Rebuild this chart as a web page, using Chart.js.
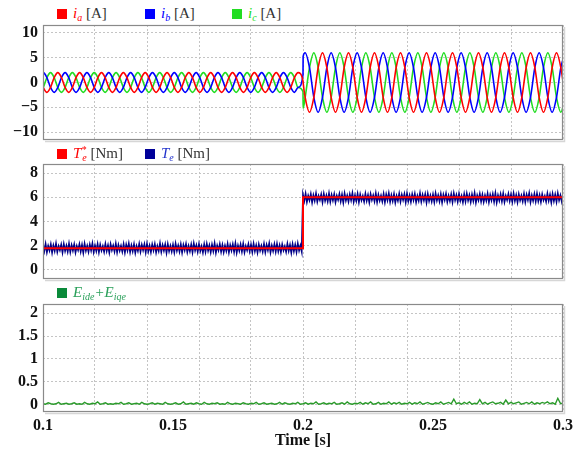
<!DOCTYPE html>
<html>
<head>
<meta charset="utf-8">
<script src="https://cdn.jsdelivr.net/npm/chart.js@4.4.0/dist/chart.umd.min.js"></script>
<style>
  body { margin: 0; background: #fff; width: 577px; height: 453px; position: relative; overflow: hidden; font-family: "Liberation Serif", serif; }
  .panel { position: absolute; left: 0; width: 577px; }
  .legend { position: absolute; font-size: 15px; line-height: 16px; color: #333; white-space: nowrap; }
  .sw { display: inline-block; width: 10px; height: 10px; margin-right: 6px; vertical-align: -1px; }
  .legend sub { font-size: 10px; vertical-align: -3px; line-height: 0; }
  .legend sup { font-size: 10px; vertical-align: 5px; line-height: 0; }
</style>
</head>
<body>

<div class="legend" style="left:57px;top:5px"><span class="sw" style="background:#ff0000"></span><i style="color:#ff0000">i<sub>a</sub></i> [A]</div>
<div class="legend" style="left:145px;top:5px"><span class="sw" style="background:#0000ff"></span><i style="color:#0000ff">i<sub>b</sub></i> [A]</div>
<div class="legend" style="left:232px;top:5px"><span class="sw" style="background:#22dd22"></span><i style="color:#22dd22">i<sub>c</sub></i> [A]</div>
<canvas id="chart-current" class="panel" style="top:17px" width="577" height="130"></canvas>

<div class="legend" style="left:57px;top:145px"><span class="sw" style="background:#ff0000"></span><i style="color:#ff0000">T<sup>*</sup><sub style="margin-left:-4px">e</sub></i> [Nm]</div>
<div class="legend" style="left:145px;top:145px"><span class="sw" style="background:#000099"></span><i style="color:#2233cc">T<sub>e</sub></i> [Nm]</div>
<canvas id="chart-torque" class="panel" style="top:156px" width="577" height="130"></canvas>

<div class="legend" style="left:57px;top:284px"><span class="sw" style="background:#0a8a3a"></span><i style="color:#2aa05a">E<sub>ide</sub>+E<sub>iqe</sub></i></div>
<canvas id="chart-error" class="panel" style="top:296px" width="577" height="157"></canvas>

<script>
// time axis, grid every 0.02 s, labels every 0.05 s
const xGridLines = [0.1, 0.12, 0.14, 0.16, 0.18, 0.2, 0.22, 0.24, 0.26, 0.28, 0.3];
const xTickLabels = [0.1, 0.15, 0.2, 0.25, 0.3];

const currentTicks = [-10, -5, 0, 5, 10];
const torqueTicks = [0, 2, 4, 6, 8];
const errorTicks = [0, 0.5, 1, 1.5, 2];

// phase currents [A], sampled around the waveform
const currentTime = [
  0.0973, 0.0987, 0.1001, 0.1015, 0.1029, 0.1043,
  0.1057, 0.1071, 0.1085, 0.1099, 0.1113, 0.1127,
  0.1141, 0.1155, 0.1169, 0.1183, 0.1197, 0.1211,
  0.1225, 0.1239, 0.1253, 0.1267, 0.1281, 0.1295,
  0.1309, 0.1323, 0.1337, 0.1351, 0.1365, 0.1379,
  0.1393, 0.1407, 0.1421, 0.1435, 0.1449, 0.1463,
  0.1477, 0.1491, 0.1505, 0.1519, 0.1533, 0.1547,
  0.1561, 0.1575, 0.1589, 0.1603, 0.1617, 0.1631,
  0.1645, 0.1659, 0.1673, 0.1687, 0.1701, 0.1715,
  0.1729, 0.1743, 0.1757, 0.1771, 0.1785, 0.1799,
  0.1813, 0.1827, 0.1841, 0.1855, 0.1869, 0.1883,
  0.1897, 0.1911, 0.1925, 0.1939, 0.1953, 0.1967,
  0.1981, 0.2, 0.20005,
  0.20083, 0.2025, 0.20417, 0.20583, 0.2075, 0.20917,
  0.21083, 0.2125, 0.21417, 0.21583, 0.2175, 0.21917,
  0.22083, 0.2225, 0.22417, 0.22583, 0.2275, 0.22917,
  0.23083, 0.2325, 0.23417, 0.23583, 0.2375, 0.23917,
  0.24083, 0.2425, 0.24417, 0.24583, 0.2475, 0.24917,
  0.25083, 0.2525, 0.25417, 0.25583, 0.2575, 0.25917,
  0.26083, 0.2625, 0.26417, 0.26583, 0.2675, 0.26917,
  0.27083, 0.2725, 0.27417, 0.27583, 0.2775, 0.27917,
  0.28083, 0.2825, 0.28417, 0.28583, 0.2875, 0.28917,
  0.29083, 0.2925, 0.29417, 0.29583, 0.2975, 0.29917,
  0.30083
];
const ia = [
  2, 1, -1, -2, -1, 1,  2, 1, -1, -2, -1, 1,  2, 1, -1, -2, -1, 1,
  2, 1, -1, -2, -1, 1,  2, 1, -1, -2, -1, 1,  2, 1, -1, -2, -1, 1,
  2, 1, -1, -2, -1, 1,  2, 1, -1, -2, -1, 1,  2, 1, -1, -2, -1, 1,
  2, 1, -1, -2, -1, 1,  2, 1, -1, -2, -1, 1,  2, 1, -1, -2, -1, 1,
  2, 0.3, 0,
  -3, -6, -3, 3, 6, 3,  -3, -6, -3, 3, 6, 3,  -3, -6, -3, 3, 6, 3,
  -3, -6, -3, 3, 6, 3,  -3, -6, -3, 3, 6, 3,  -3, -6, -3, 3, 6, 3,
  -3, -6, -3, 3, 6, 3,  -3, -6, -3, 3, 6, 3,  -3, -6, -3, 3, 6, 3,
  -3, -6, -3, 3, 6, 3,
  -3
];
const ib = [
  -1, 1, 2, 1, -1, -2,  -1, 1, 2, 1, -1, -2,  -1, 1, 2, 1, -1, -2,
  -1, 1, 2, 1, -1, -2,  -1, 1, 2, 1, -1, -2,  -1, 1, 2, 1, -1, -2,
  -1, 1, 2, 1, -1, -2,  -1, 1, 2, 1, -1, -2,  -1, 1, 2, 1, -1, -2,
  -1, 1, 2, 1, -1, -2,  -1, 1, 2, 1, -1, -2,  -1, 1, 2, 1, -1, -2,
  -1, 1.56, 5.2,
  6, 3, -3, -6, -3, 3,  6, 3, -3, -6, -3, 3,  6, 3, -3, -6, -3, 3,
  6, 3, -3, -6, -3, 3,  6, 3, -3, -6, -3, 3,  6, 3, -3, -6, -3, 3,
  6, 3, -3, -6, -3, 3,  6, 3, -3, -6, -3, 3,  6, 3, -3, -6, -3, 3,
  6, 3, -3, -6, -3, 3,
  6
];
const ic = [
  -1, -2, -1, 1, 2, 1,  -1, -2, -1, 1, 2, 1,  -1, -2, -1, 1, 2, 1,
  -1, -2, -1, 1, 2, 1,  -1, -2, -1, 1, 2, 1,  -1, -2, -1, 1, 2, 1,
  -1, -2, -1, 1, 2, 1,  -1, -2, -1, 1, 2, 1,  -1, -2, -1, 1, 2, 1,
  -1, -2, -1, 1, 2, 1,  -1, -2, -1, 1, 2, 1,  -1, -2, -1, 1, 2, 1,
  -1, -1.86, -5.2,
  -3, 3, 6, 3, -3, -6,  -3, 3, 6, 3, -3, -6,  -3, 3, 6, 3, -3, -6,
  -3, 3, 6, 3, -3, -6,  -3, 3, 6, 3, -3, -6,  -3, 3, 6, 3, -3, -6,
  -3, 3, 6, 3, -3, -6,  -3, 3, 6, 3, -3, -6,  -3, 3, 6, 3, -3, -6,
  -3, 3, 6, 3, -3, -6,
  -3
];

// torque reference [Nm]
const torqueRefTime = [0.1, 0.2, 0.2, 0.3];
const torqueRef = [1.8, 1.8, 6, 6];

// measured torque [Nm], one sample every 0.5 ms from 0.1 s
const torqueStart = 0.1;
const torqueStep = 0.0005;
const torque = [
  2.05,1.55,2.14,1.47,1.98,1.61,2.11,1.44,2.02,1.58,2.17,1.50,1.96,1.63,2.08,1.46,2.13,1.57,2.00,1.52,
  2.16,1.49,2.04,1.60,2.10,1.45,1.97,1.64,2.12,1.53,2.06,1.43,2.15,1.59,1.99,1.51,2.09,1.62,2.18,1.48,
  2.01,1.56,2.13,1.46,2.07,1.60,1.95,1.50,2.14,1.57,2.03,1.44,2.11,1.63,2.00,1.53,2.16,1.47,2.05,1.59,
  1.98,1.52,2.12,1.45,2.08,1.61,2.17,1.49,2.02,1.55,2.10,1.42,1.96,1.58,2.14,1.51,2.06,1.64,2.11,1.46,
  2.15,1.54,2.00,1.48,2.09,1.62,2.13,1.45,1.97,1.57,2.18,1.50,2.04,1.60,2.10,1.43,2.12,1.56,1.99,1.52,
  2.07,1.47,2.16,1.59,2.01,1.53,2.11,1.44,2.05,1.63,2.14,1.49,1.98,1.55,2.09,1.46,2.17,1.61,2.03,1.50,
  2.12,1.58,1.96,1.45,2.10,1.52,2.15,1.60,2.02,1.47,2.08,1.56,2.18,1.43,2.00,1.62,2.13,1.51,2.06,1.48,
  1.99,1.57,2.14,1.46,2.04,1.61,2.11,1.50,2.17,1.44,2.01,1.59,2.09,1.53,2.15,1.47,1.97,1.63,2.12,1.55,
  2.08,1.49,2.16,1.56,2.03,1.45,2.10,1.60,1.98,1.52,2.13,1.48,2.06,1.64,2.18,1.46,2.00,1.57,2.11,1.51,
  2.14,1.54,2.02,1.47,2.09,1.62,1.95,1.50,2.15,1.58,2.05,1.44,2.12,1.55,2.07,1.49,2.17,1.61,2.01,1.53,
  6.20,5.70,6.29,5.62,6.13,5.76,6.26,5.59,6.17,5.73,6.32,5.65,6.11,5.78,6.23,5.61,6.28,5.72,6.15,5.67,
  6.31,5.64,6.19,5.75,6.25,5.60,6.12,5.79,6.27,5.68,6.21,5.58,6.30,5.74,6.14,5.66,6.24,5.77,6.33,5.63,
  6.16,5.71,6.28,5.61,6.22,5.75,6.10,5.65,6.29,5.72,6.18,5.59,6.26,5.78,6.15,5.68,6.31,5.62,6.20,5.74,
  6.13,5.67,6.27,5.60,6.23,5.76,6.32,5.64,6.17,5.70,6.25,5.57,6.11,5.73,6.29,5.66,6.21,5.79,6.26,5.61,
  6.30,5.69,6.15,5.63,6.24,5.77,6.28,5.60,6.12,5.72,6.33,5.65,6.19,5.75,6.25,5.58,6.27,5.71,6.14,5.67,
  6.22,5.62,6.31,5.74,6.16,5.68,6.26,5.59,6.20,5.78,6.29,5.64,6.13,5.70,6.24,5.61,6.32,5.76,6.18,5.65,
  6.27,5.73,6.11,5.60,6.25,5.67,6.30,5.75,6.17,5.62,6.23,5.71,6.33,5.58,6.15,5.77,6.28,5.66,6.21,5.63,
  6.14,5.72,6.29,5.61,6.19,5.76,6.26,5.65,6.32,5.59,6.16,5.74,6.24,5.68,6.30,5.62,6.12,5.78,6.27,5.70,
  6.23,5.64,6.31,5.71,6.18,5.60,6.25,5.75,6.13,5.67,6.28,5.63,6.21,5.79,6.33,5.61,6.15,5.72,6.26,5.66,
  6.29,5.69,6.17,5.62,6.24,5.77,6.10,5.65,6.30,5.73,6.20,5.59,6.27,5.70,6.22,5.64,6.32,5.76,6.16,5.68,
  6.25
];

// current error Eide + Eiqe, one sample every 1 ms from 0.1 s
const errorStart = 0.1;
const errorStep = 0.001;
const errorSum = [
  0.02,0.01,0.04,0.02,0.01,0.02,0.05,0.01,0.02,0.03,0.01,0.02,0.04,0.01,0.02,0.01,0.05,0.02,0.01,0.03,
  0.02,0.06,0.01,0.02,0.04,0.01,0.02,0.01,0.03,0.02,0.05,0.01,0.02,0.04,0.01,0.02,0.03,0.01,0.05,0.02,
  0.01,0.02,0.04,0.01,0.03,0.02,0.01,0.05,0.02,0.01,0.02,0.04,0.01,0.02,0.06,0.01,0.02,0.03,0.01,0.04,
  0.02,0.01,0.05,0.02,0.01,0.03,0.02,0.04,0.01,0.02,0.01,0.05,0.02,0.01,0.03,0.02,0.01,0.04,0.02,0.01,
  0.03,0.02,0.05,0.01,0.02,0.04,0.01,0.02,0.03,0.01,0.02,0.05,0.01,0.04,0.02,0.01,0.03,0.02,0.05,0.01,
  0.02,0.04,0.01,0.03,0.02,0.06,0.01,0.02,0.04,0.01,0.03,0.02,0.05,0.01,0.02,0.04,0.01,0.06,0.02,0.01,
  0.03,0.02,0.05,0.01,0.04,0.02,0.06,0.01,0.02,0.05,0.01,0.03,0.02,0.06,0.01,0.04,0.02,0.05,0.01,0.03,
  0.02,0.05,0.01,0.04,0.02,0.06,0.01,0.03,0.05,0.02,0.01,0.04,0.02,0.06,0.01,0.03,0.05,0.02,0.12,0.02,
  0.04,0.01,0.05,0.02,0.06,0.01,0.03,0.02,0.11,0.02,0.05,0.01,0.04,0.06,0.02,0.03,0.05,0.01,0.10,0.02,
  0.05,0.02,0.04,0.06,0.01,0.03,0.05,0.02,0.06,0.01,0.04,0.02,0.05,0.03,0.06,0.02,0.04,0.01,0.14,0.03,
  0.02
];

Chart.defaults.font.family = '"Liberation Serif", "Times New Roman", serif';

const boxPlugin = {
  id: 'box',
  afterDraw(chart) {
    const { ctx, chartArea: a } = chart;
    ctx.save();
    ctx.strokeStyle = '#d6d6d6';
    ctx.lineWidth = 1.5;
    ctx.beginPath();
    ctx.moveTo(a.left + 2, a.bottom + 1.5);
    ctx.lineTo(a.right + 1.5, a.bottom + 1.5);
    ctx.lineTo(a.right + 1.5, a.top + 2);
    ctx.stroke();
    ctx.strokeStyle = '#8a8a8a';
    ctx.lineWidth = 1.2;
    ctx.strokeRect(a.left + 0.5, a.top + 0.5, a.right - a.left - 1, a.bottom - a.top - 1);
    ctx.restore();
  }
};

const near = (list, v) => list.some(g => Math.abs(g - v) < 1e-9);
const minus = v => (v < 0 ? '\u2212' + Math.abs(v) : String(v));

function makeOptions(yMin, yMax, yTicks, showTime) {
  return {
    responsive: false,
    animation: false,
    events: [],
    layout: { padding: { left: 0, right: 14, top: 8, bottom: showTime ? 0 : 7 } },
    plugins: { legend: { display: false }, tooltip: { enabled: false } },
    scales: {
      x: {
        type: 'linear',
        min: 0.1,
        max: 0.3,
        afterBuildTicks: s => { s.ticks = xGridLines.concat([0.15, 0.25]).sort((p, q) => p - q).map(v => ({ value: v })); },
        afterFit: s => { s.height = showTime ? 41 : 0; s.paddingLeft = 0; s.paddingRight = 0; },
        grid: {
          drawTicks: false,
          color: c => (c.tick && near(xGridLines, c.tick.value) ? '#c4c4c4' : 'rgba(0,0,0,0)'),
          lineWidth: 1
        },
        border: { display: false, dash: [2, 2] },
        ticks: {
          display: showTime,
          autoSkip: false,
          maxRotation: 0,
          padding: 4,
          color: '#111',
          font: { size: 16, weight: 'bold' },
          callback: v => (near(xTickLabels, v) ? String(Math.round(v * 100) / 100) : '')
        },
        title: {
          display: showTime,
          text: 'Time [s]',
          color: '#111',
          font: { size: 16, weight: 'bold' },
          padding: { top: 0, bottom: 3 }
        }
      },
      y: {
        min: yMin,
        max: yMax,
        afterBuildTicks: s => { s.ticks = yTicks.map(v => ({ value: v })); },
        afterFit: s => { s.width = 43; s.paddingTop = 0; s.paddingBottom = 0; },
        grid: { drawTicks: false, color: '#c4c4c4', lineWidth: 1 },
        border: { display: false, dash: [2, 2] },
        ticks: {
          padding: 5,
          color: '#111',
          font: { size: 16, weight: 'bold' },
          callback: v => minus(v)
        }
      }
    }
  };
}

const line = (data, color, width, smooth) => ({
  data: data,
  borderColor: color,
  borderWidth: width,
  pointRadius: 0,
  fill: false,
  cubicInterpolationMode: smooth ? 'monotone' : 'default',
  tension: 0
});

const pairs = (xs, ys) => ys.map((y, i) => ({ x: xs[i], y: y }));
const sampled = (start, step, ys) => ys.map((y, i) => ({ x: start + i * step, y: y }));

new Chart(document.getElementById('chart-current'), {
  type: 'line',
  data: {
    datasets: [
      line(pairs(currentTime, ia), '#ff0000', 1.6, true),
      line(pairs(currentTime, ib), '#0000ff', 1.6, true),
      line(pairs(currentTime, ic), '#22dd22', 1.6, true)
    ]
  },
  options: makeOptions(-11.6, 11.6, currentTicks, false),
  plugins: [boxPlugin]
});

new Chart(document.getElementById('chart-torque'), {
  type: 'line',
  data: {
    datasets: [
      line(pairs(torqueRefTime, torqueRef), '#ff0000', 2, false),
      line(sampled(torqueStart, torqueStep, torque), '#000088', 1.7, false)
    ]
  },
  options: makeOptions(-0.75, 8.75, torqueTicks, false),
  plugins: [boxPlugin]
});

new Chart(document.getElementById('chart-error'), {
  type: 'line',
  data: {
    datasets: [
      line(sampled(errorStart, errorStep, errorSum), '#2a9a2a', 1.4, false)
    ]
  },
  options: makeOptions(-0.16, 2.2, errorTicks, true),
  plugins: [boxPlugin]
});
</script>
</body>
</html>
